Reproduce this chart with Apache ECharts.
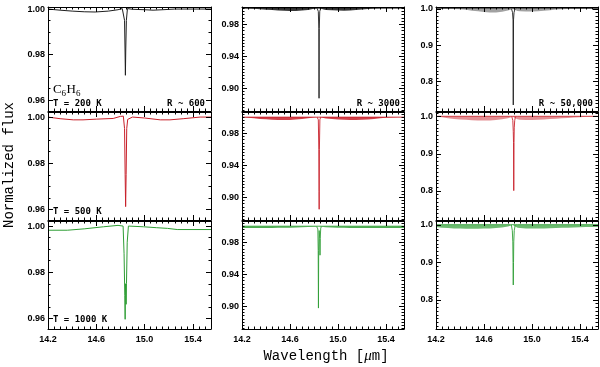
<!DOCTYPE html>
<html><head><meta charset="utf-8">
<script src="https://cdn.jsdelivr.net/npm/echarts@6/dist/echarts.min.js"></script>
<style>html,body{margin:0;padding:0;background:#fff}#c{width:600px;height:367px}</style>
</head><body><div id="c"></div>
<script>
// ---------------- data ----------------
// tick labels
const xMajor = [14.2, 14.6, 15.0, 15.4];
const yMajorR600 = [0.96, 0.98, 1.00];
const yMajorR3000 = [0.90, 0.94, 0.98];
const yMajorR50000 = [0.8, 0.9, 1.0];

// R ~ 600 spectra (single line)
const wl600_200 = [14.20,14.30,14.40,14.50,14.59,14.70,14.78,14.815,14.826,14.834,14.838,14.841,14.844,14.849,14.858,14.866,14.90,15.00,15.07,15.15,15.25,15.40,15.55];
const fx600_200 = [1.0000,0.9995,0.9991,0.9988,0.9987,0.9991,0.9997,1.0002,0.9995,0.9950,0.9820,0.9709,0.9820,0.9950,1.0002,1.0005,0.9999,0.9997,0.9995,0.9997,1.0000,1.0000,1.0000];
const wl600_500 = [14.20,14.30,14.41,14.49,14.60,14.74,14.80,14.824,14.834,14.839,14.843,14.847,14.852,14.860,14.868,14.90,15.00,15.13,15.21,15.32,15.46,15.55];
const fx600_500 = [1.0000,0.9993,0.9988,0.9988,0.9991,0.9994,1.0003,1.0004,0.9950,0.9750,0.9612,0.9750,0.9950,0.9990,0.9996,1.0000,0.9996,0.9988,0.9988,0.9993,1.0000,1.0000];
const wl600_1000 = [14.20,14.36,14.50,14.66,14.78,14.822,14.830,14.836,14.839,14.842,14.845,14.847,14.850,14.856,14.866,14.99,15.10,15.19,15.27,15.55];
const fx600_1000 = [0.9982,0.9982,0.9988,0.9997,1.0003,1.0000,0.9880,0.9700,0.9596,0.9750,0.9720,0.9661,0.9750,0.9930,1.0000,0.9997,0.9993,0.9990,0.9985,0.9985];

// R ~ 3000 and R ~ 50,000: envelope of the dense line forest + the Q-branch dip
const bandWl = [14.20,14.25,14.30,14.35,14.40,14.45,14.50,14.55,14.60,14.65,14.70,14.75,14.80,14.82,14.84,14.86,14.88,14.90,14.95,15.00,15.05,15.10,15.15,15.20,15.25,15.30,15.35,15.40,15.45,15.50,15.55];

const top3000_200 = [1.0002,1.0002,1.0002,1.0002,1.0002,1.0002,1.0002,1.0002,1.0002,1.0002,1.0002,1.0002,1.0002,1.0002,1.0002,1.0002,1.0002,1.0002,1.0002,1.0002,1.0002,1.0002,1.0002,1.0002,1.0002,1.0002,1.0002,1.0002,1.0002,1.0002,1.0002];
const low3000_200 = [1.0000,0.9998,0.9993,0.9988,0.9982,0.9977,0.9972,0.9968,0.9966,0.9967,0.9972,0.9980,0.9993,0.9998,1.0000,0.9995,0.9985,0.9980,0.9974,0.9971,0.9970,0.9972,0.9977,0.9984,0.9991,0.9996,0.9999,1.0000,1.0000,1.0000,1.0000];
const dipWl3000_200 = [14.826,14.836,14.840,14.842,14.844,14.848,14.856];
const dipFx3000_200 = [1.0000,0.9960,0.9750,0.8875,0.9750,0.9960,1.0000];

const top3000_500 = [1.0002,1.0002,1.0002,1.0002,1.0002,1.0002,1.0002,1.0002,1.0002,1.0002,1.0002,1.0002,1.0002,1.0002,1.0002,1.0002,1.0002,1.0002,1.0002,1.0002,1.0002,1.0002,1.0002,1.0002,1.0002,1.0002,1.0002,1.0002,1.0002,1.0002,1.0002];
const low3000_500 = [1.0000,0.9995,0.9988,0.9980,0.9975,0.9970,0.9967,0.9966,0.9967,0.9971,0.9978,0.9988,0.9996,0.9999,1.0000,0.9997,0.9990,0.9985,0.9978,0.9973,0.9970,0.9967,0.9966,0.9968,0.9973,0.9980,0.9988,0.9995,0.9998,1.0000,1.0000];
const dipWl3000_500 = [14.826,14.836,14.840,14.842,14.843,14.845,14.849,14.856];
const dipFx3000_500 = [1.0000,0.9970,0.9600,0.9070,0.8850,0.9600,0.9970,1.0000];

const top3000_1000 = [1.0005,1.0005,1.0005,1.0005,1.0005,1.0005,1.0005,1.0005,1.0005,1.0005,1.0005,1.0005,1.0005,1.0005,1.0005,1.0005,1.0005,1.0005,1.0005,1.0005,1.0005,1.0005,1.0005,1.0005,1.0005,1.0005,1.0005,1.0005,1.0005,1.0005,1.0005];
const low3000_1000 = [0.9982,0.9981,0.9981,0.9982,0.9982,0.9983,0.9984,0.9985,0.9986,0.9988,0.9990,0.9993,0.9997,0.9999,1.0000,0.9998,0.9994,0.9991,0.9987,0.9985,0.9984,0.9983,0.9983,0.9982,0.9982,0.9982,0.9982,0.9983,0.9983,0.9983,0.9983];
const dipWl3000_1000 = [14.822,14.832,14.835,14.837,14.839,14.843,14.848,14.850,14.852,14.856,14.862];
const dipFx3000_1000 = [1.0000,0.9970,0.9700,0.8975,0.9700,0.9950,0.9850,0.9640,0.9850,0.9980,1.0000];

const top50000_200 = [1.0020,1.0020,1.0020,1.0020,1.0020,1.0020,1.0020,1.0020,1.0020,1.0020,1.0020,1.0020,1.0020,1.0020,1.0020,1.0020,1.0020,1.0020,1.0020,1.0020,1.0020,1.0020,1.0020,1.0020,1.0020,1.0020,1.0020,1.0020,1.0020,1.0020,1.0020];
const low50000_200 = [1.0000,1.0000,1.0000,0.9998,0.9994,0.9982,0.9955,0.9935,0.9918,0.9905,0.9903,0.9922,0.9958,0.9980,1.0000,0.9970,0.9948,0.9937,0.9931,0.9933,0.9940,0.9953,0.9968,0.9983,0.9994,0.9999,1.0000,1.0000,1.0000,1.0000,1.0000];
const dipWl50000_200 = [14.830,14.838,14.842,14.844,14.846,14.850,14.858];
const dipFx50000_200 = [1.0000,0.9900,0.9700,0.7360,0.9700,0.9900,1.0000];

const top50000_500 = [1.0010,1.0010,1.0010,1.0010,1.0010,1.0010,1.0010,1.0010,1.0010,1.0010,1.0010,1.0010,1.0010,1.0010,1.0010,1.0010,1.0010,1.0010,1.0010,1.0010,1.0010,1.0010,1.0010,1.0010,1.0010,1.0010,1.0010,1.0010,1.0010,1.0010,1.0010];
const low50000_500 = [1.0000,0.9985,0.9960,0.9940,0.9925,0.9915,0.9905,0.9895,0.9895,0.9900,0.9910,0.9930,0.9960,0.9980,1.0000,0.9960,0.9930,0.9915,0.9910,0.9910,0.9915,0.9925,0.9935,0.9945,0.9955,0.9965,0.9975,0.9985,0.9995,1.0000,1.0000];
const dipWl50000_500 = [14.832,14.840,14.844,14.846,14.848,14.850,14.852,14.856,14.862];
const dipFx50000_500 = [1.0000,0.9900,0.9600,0.9300,0.8010,0.9300,0.9700,0.9900,1.0000];

const top50000_1000 = [1.0010,1.0010,1.0010,1.0010,1.0010,1.0010,1.0010,1.0010,1.0010,1.0010,1.0010,1.0010,1.0010,1.0010,1.0010,1.0010,1.0010,1.0010,1.0010,1.0010,1.0010,1.0010,1.0010,1.0010,1.0010,1.0010,1.0010,1.0010,1.0010,1.0010,1.0010];
const low50000_1000 = [0.9945,0.9930,0.9920,0.9910,0.9905,0.9900,0.9900,0.9900,0.9905,0.9910,0.9920,0.9935,0.9960,0.9980,1.0000,0.9960,0.9930,0.9920,0.9910,0.9905,0.9905,0.9910,0.9915,0.9920,0.9925,0.9930,0.9935,0.9940,0.9945,0.9950,0.9950];
const dipWl50000_1000 = [14.828,14.836,14.840,14.842,14.844,14.846,14.848,14.852,14.860];
const dipFx50000_1000 = [1.0000,0.9850,0.9550,0.9000,0.8400,0.9000,0.9550,0.9850,1.0000];

// ---------------- layout / style ----------------
const rowColors = ['#1e1e1e', '#c8202a', '#2f9e35'];
const bandColorsR3000 = ['rgba(20,20,20,0.85)', 'rgba(200,32,42,0.85)', 'rgba(47,158,53,0.85)'];
const bandColorsR50000 = ['rgba(20,20,20,0.40)', 'rgba(200,32,42,0.50)', 'rgba(47,158,53,0.70)'];
const cols = [{left:48,width:163},{left:242,width:162},{left:436,width:162}];
const rows = [{top:7,height:104},{top:112,height:108},{top:221,height:108}];
const xMin = 14.2, xMax = 15.55, xMinorStep = 0.05;
const yMajor = [yMajorR600, yMajorR3000, yMajorR50000];
const yMinorStep = [0.005, 0.004, 0.01];
const yDigits = [2, 2, 1];
const yRanges = [
  [[0.9552,1.0009],[0.8716,1.0016],[0.7194,1.0055]],
  [[0.9554,1.0022],[0.8716,1.0066],[0.7220,1.0126]],
  [[0.9554,1.0022],[0.8712,1.0070],[0.7226,1.0107]]
];

const lowRes = [[wl600_200,fx600_200],[wl600_500,fx600_500],[wl600_1000,fx600_1000]];
const highRes = [
  [ [top3000_200,low3000_200,dipWl3000_200,dipFx3000_200], [top50000_200,low50000_200,dipWl50000_200,dipFx50000_200] ],
  [ [top3000_500,low3000_500,dipWl3000_500,dipFx3000_500], [top50000_500,low50000_500,dipWl50000_500,dipFx50000_500] ],
  [ [top3000_1000,low3000_1000,dipWl3000_1000,dipFx3000_1000], [top50000_1000,low50000_1000,dipWl50000_1000,dipFx50000_1000] ]
];

function minorTicks(min, max, step, majors) {
  const out = [];
  const k0 = Math.ceil(min / step - 1e-9);
  for (let k = k0; k * step <= max + 1e-9; k++) {
    const v = +(k * step).toFixed(6);
    if (!majors.some(m => Math.abs(m - v) < 1e-7)) out.push(v);
  }
  return out;
}

const labelStyle = {color:'#000', fontSize:9, fontWeight:'bold', fontFamily:'Liberation Sans'};
const grids = [], xAxes = [], yAxes = [], series = [];

for (let r = 0; r < 3; r++) {
  for (let c = 0; c < 3; c++) {
    const gi = grids.length;
    grids.push({left:cols[c].left, top:rows[r].top, width:cols[c].width, height:rows[r].height, show:false});
    const [ymin, ymax] = yRanges[r][c];
    const xMinors = minorTicks(xMin, xMax, xMinorStep, xMajor);
    const yMinors = minorTicks(ymin, ymax, yMinorStep[c], yMajor[c]);
    const base = {gridIndex:gi, type:'value', splitLine:{show:false}, silent:true, z:5};
    const xi = xAxes.length;
    ['bottom','top'].forEach(pos => {
      xAxes.push(Object.assign({}, base, {min:xMin, max:xMax, position:pos,
        axisLine:{show:true, onZero:false, lineStyle:{color:'#000', width:1}},
        axisTick:{show:true, inside:true, length:5, customValues:xMajor, lineStyle:{color:'#000', width:1}},
        axisLabel:Object.assign({show: pos === 'bottom' && r === 2, customValues:xMajor, margin:6,
          formatter: v => v.toFixed(1)}, labelStyle)}));
      xAxes.push(Object.assign({}, base, {min:xMin, max:xMax, position:pos,
        axisLine:{show:false, onZero:false},
        axisTick:{show:true, inside:true, length:2.5, customValues:xMinors, lineStyle:{color:'#000', width:1}},
        axisLabel:{show:false}}));
    });
    const yi = yAxes.length;
    ['left','right'].forEach(pos => {
      yAxes.push(Object.assign({}, base, {min:ymin, max:ymax, position:pos,
        axisLine:{show:true, onZero:false, lineStyle:{color:'#000', width:1}},
        axisTick:{show:true, inside:true, length:5, customValues:yMajor[c], lineStyle:{color:'#000', width:1}},
        axisLabel:Object.assign({show: pos === 'left', customValues:yMajor[c], margin:3,
          formatter: v => v.toFixed(yDigits[c])}, labelStyle)}));
      yAxes.push(Object.assign({}, base, {min:ymin, max:ymax, position:pos,
        axisLine:{show:false, onZero:false},
        axisTick:{show:true, inside:true, length:2.5, customValues:yMinors, lineStyle:{color:'#000', width:1}},
        axisLabel:{show:false}}));
    });
    const common = {xAxisIndex:xi, yAxisIndex:yi, silent:true, animation:false};
    const lineCommon = Object.assign({type:'line', symbol:'none', showSymbol:false, clip:true}, common);
    if (c === 0) {
      const [wl, fx] = lowRes[r];
      series.push(Object.assign({}, lineCommon, {data: wl.map((w,i) => [w, fx[i]]),
        lineStyle:{color:rowColors[r], width:1}}));
    } else {
      const [top, low, dWl, dFx] = highRes[r][c-1];
      const band = c === 1 ? bandColorsR3000[r] : bandColorsR50000[r];
      // band between lower envelope and top envelope
      series.push(Object.assign({}, common, {type:'custom',
        data: bandWl.map((w,i) => [w, low[i], top[i]]),
        encode:{x:0, y:[1,2]},
        renderItem: (params, api) => {
          if (params.dataIndex !== 0) return null;
          const pts = [];
          for (let i = 0; i < bandWl.length; i++) pts.push(api.coord([bandWl[i], top[i]]));
          for (let i = bandWl.length - 1; i >= 0; i--) pts.push(api.coord([bandWl[i], low[i]]));
          return {type:'polygon', shape:{points:pts}, style:{fill:band, stroke:null}};
        }}));
      series.push(Object.assign({}, lineCommon, {data: bandWl.map((w,i) => [w, top[i]]),
        lineStyle:{color:rowColors[r], width:0.8}}));
      series.push(Object.assign({}, lineCommon, {data: dWl.map((w,i) => [w, dFx[i]]),
        lineStyle:{color:rowColors[r], width:0.9}}));
    }
  }
}

const mono = 'bold 9px "DejaVu Sans Mono"';
const graphic = [
  {type:'text', x:53, y:90, style:{text:'C', font:'13px "Liberation Serif"', fill:'#000', align:'left', verticalAlign:'middle'}},
  {type:'text', x:61.5, y:94, style:{text:'6', font:'9px "Liberation Serif"', fill:'#000', align:'left', verticalAlign:'middle'}},
  {type:'text', x:66.5, y:90, style:{text:'H', font:'13px "Liberation Serif"', fill:'#000', align:'left', verticalAlign:'middle'}},
  {type:'text', x:76, y:94, style:{text:'6', font:'9px "Liberation Serif"', fill:'#000', align:'left', verticalAlign:'middle'}},
  {type:'text', x:53, y:104, style:{text:'T = 200 K', font:mono, fill:'#000', align:'left', verticalAlign:'middle'}},
  {type:'text', x:205, y:104, style:{text:'R ~ 600', font:mono, fill:'#000', align:'right', verticalAlign:'middle'}},
  {type:'text', x:400, y:103.5, style:{text:'R ~ 3000', font:mono, fill:'#000', align:'right', verticalAlign:'middle'}},
  {type:'text', x:593, y:103.5, style:{text:'R ~ 50,000', font:mono, fill:'#000', align:'right', verticalAlign:'middle'}},
  {type:'text', x:53, y:212, style:{text:'T = 500 K', font:mono, fill:'#000', align:'left', verticalAlign:'middle'}},
  {type:'text', x:53, y:320, style:{text:'T = 1000 K', font:mono, fill:'#000', align:'left', verticalAlign:'middle'}},
  {type:'text', x:9, y:165, rotation:Math.PI/2, style:{text:'Normalized flux', font:'14px "Liberation Mono"', fill:'#000', align:'center', verticalAlign:'middle'}},
  {type:'text', x:326, y:356, style:{text:'{n|Wavelength [}{i|μ}{n|m]}', fill:'#000', align:'center', verticalAlign:'middle',
    rich:{n:{fontFamily:'Liberation Mono', fontSize:14, fill:'#000'}, i:{fontFamily:'Liberation Serif', fontStyle:'italic', fontSize:15, fill:'#000'}}}}
];

const chart = echarts.init(document.getElementById('c'), null, {renderer:'canvas'});
chart.setOption({animation:false, backgroundColor:'#fff', grid:grids, xAxis:xAxes, yAxis:yAxes, series:series, graphic:graphic});
</script>
</body></html>
